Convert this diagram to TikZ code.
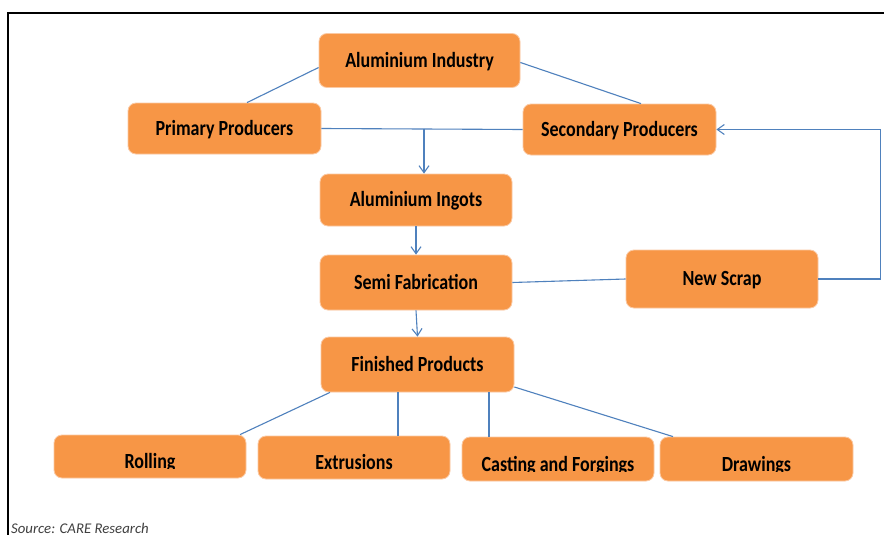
\documentclass[tikz,border=0pt]{standalone}
\usepackage{fontspec}
\usepackage{graphicx}
\setmainfont{Carlito}
\usetikzlibrary{arrows.meta,calc}
\definecolor{boxorange}{HTML}{F79646}
\definecolor{boxedge}{HTML}{FBC9A3}
\definecolor{connblue}{HTML}{4F81BD}
\definecolor{srcgray}{HTML}{404040}
\newcommand{\boxlbl}[1]{\scalebox{1}[1.2]{#1}}
\tikzset{
  box/.style={rounded corners=8pt, fill=boxorange, draw=boxedge, line width=0.8pt,
    inner sep=0pt, font=\fontsize{18}{21}\selectfont\bfseries, text=black,
    text height=13.5pt, text depth=0pt},
  cutlbl/.style={path picture={
    \clip ([yshift=10pt]path picture bounding box.south west) rectangle (path picture bounding box.north east);
    \node[anchor=base, inner sep=0pt, font=\fontsize{18}{21}\selectfont\bfseries, text=black]
      at ([yshift=10pt]path picture bounding box.south) {\boxlbl{#1}};}},
  conn/.style={draw=connblue, line width=1.1pt},
  arr/.style={conn, -{Straight Barb[length=7pt,width=10pt]}},
}
\begin{document}
\begin{tikzpicture}[x=1pt,y=-1pt]
\useasboundingbox (0,0) rectangle (884,535);
\fill[white] (0,0) rectangle (884,535);
% frame
\draw[line width=2.6pt] (8,535) -- (8,13) -- (884,13);
% boxes
\node[box, minimum width=201pt, minimum height=54pt] (ai) at (419.5,60.5) {\boxlbl{Aluminium Industry}};
\node[box, minimum width=193pt, minimum height=51pt] (pp) at (224.5,128.5) {\boxlbl{Primary Producers}};
\node[box, minimum width=193pt, minimum height=51pt] (sp) at (619.5,129.5) {\boxlbl{Secondary Producers}};
\node[box, minimum width=192pt, minimum height=52pt] (ig) at (416,200) {\boxlbl{Aluminium Ingots}};
\node[box, minimum width=192pt, minimum height=55pt] (sf) at (416,282.5) {\boxlbl{Semi Fabrication}};
\node[box, minimum width=192pt, minimum height=58pt] (ns) at (722,279) {\boxlbl{New Scrap}};
\node[box, minimum width=193pt, minimum height=55pt] (fp) at (417.5,364.5) {\boxlbl{Finished Products}};
\node[box, cutlbl={Rolling}, minimum width=192pt, minimum height=43pt] (ro) at (150,456.5) {};
\node[box, cutlbl={Extrusions}, minimum width=192pt, minimum height=43pt] (ex) at (354,457.5) {};
\node[box, cutlbl={Casting and Forgings}, minimum width=192pt, minimum height=44pt] (ca) at (558,459) {};
\node[box, cutlbl={Drawings}, minimum width=193pt, minimum height=44pt] (dr) at (756.5,459) {};
% connectors
\draw[conn] ([yshift=-7pt]ai.west) -- ([xshift=22.5pt]pp.north);
\draw[conn] ([yshift=-2pt]ai.east) -- ([xshift=21.5pt]sp.north);
\draw[conn] (pp.east) -- (sp.west);
\coordinate (j) at ([xshift=8pt]ig.north |- pp.east);
\draw[arr] (j) -- (j |- ig.north);
\draw[arr] (ig.south) -- (sf.north);
\draw[conn] (sf.east) -- (ns.west);
\coordinate (c1) at ([xshift=62pt]ns.east);
\draw[arr] (ns.east) -- (c1) |- (sp.east);
\draw[arr] (sf.south) -- (fp.north);
\draw[conn] ([xshift=-87.5pt]fp.south) -- ([xshift=90pt]ro.north);
\coordinate (e1) at ([xshift=-19.5pt]fp.south);
\draw[conn] (e1) -- (e1 |- ex.north);
\coordinate (e2) at ([xshift=71.5pt]fp.south);
\draw[conn] (e2) -- (e2 |- ca.north);
\draw[conn] ([yshift=-22.5pt]fp.east) -- ([xshift=-83.5pt]dr.north);
% source
\node[anchor=base west, inner sep=0pt, font=\fontsize{14.8}{17}\selectfont\itshape, text=srcgray] (src) at (11,533) {Source: CARE Research};
\end{tikzpicture}
\end{document}
